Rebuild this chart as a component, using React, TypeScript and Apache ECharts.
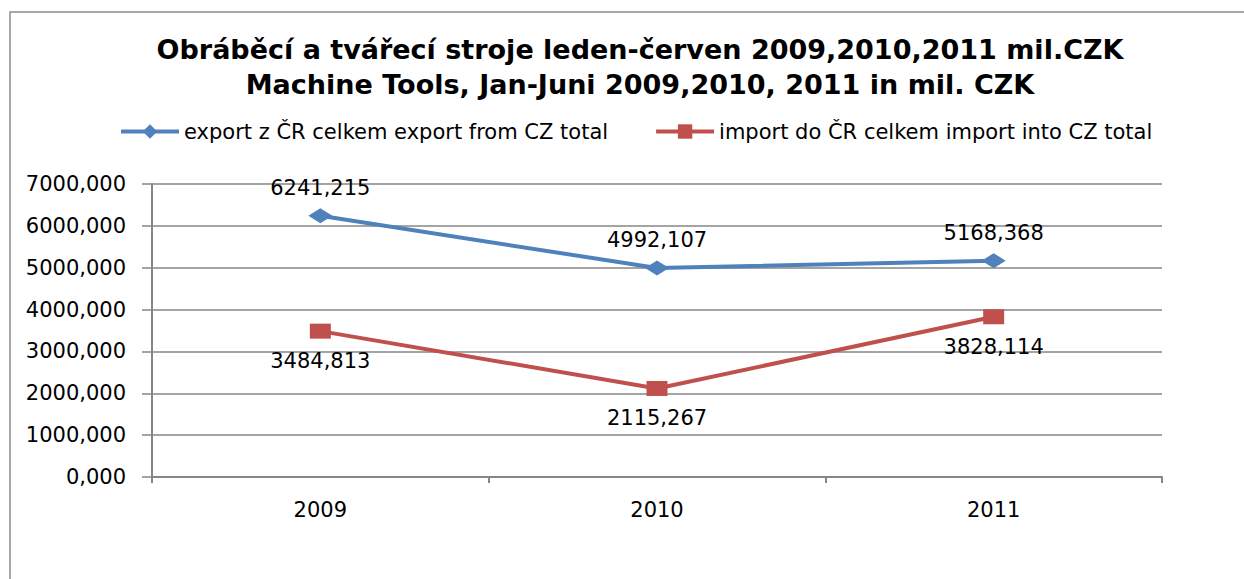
import React, { useEffect, useRef } from "react";
import * as echarts from "echarts";

const categories = ["2009", "2010", "2011"];
const exportValues = [6241.215, 4992.107, 5168.368];
const importValues = [3484.813, 2115.267, 3828.114];
const exportName = "export z ČR celkem export from CZ total";
const importName = "import do ČR celkem import into CZ total";
const titleText = "Obráběcí a tvářecí stroje leden-červen 2009,2010,2011 mil.CZK\nMachine Tools, Jan-Juni 2009,2010, 2011 in mil. CZK";

const fmt = (v: number) => v.toFixed(3).replace(".", ",");
const FONT = "'DejaVu Sans', sans-serif";

export default function App() {
  const ref = useRef<HTMLDivElement>(null);
  useEffect(() => {
    document.body.style.margin = "0";
    const chart = echarts.init(ref.current!, null, { renderer: "svg" });
    chart.setOption({
      animation: false,
      backgroundColor: "#ffffff",
      textStyle: { fontFamily: FONT },
      graphic: [
        {
          type: "rect",
          shape: { x: 10, y: 12, width: 1400, height: 800 },
          style: { fill: "none", stroke: "#8c8c8c", lineWidth: 1.5 },
          silent: true,
          z: -1,
        },
      ],
      title: {
        text: titleText,
        left: 635,
        textAlign: "center",
        top: 27,
        textStyle: {
          fontFamily: FONT,
          fontSize: 27,
          fontWeight: "bold",
          color: "#000000",
          lineHeight: 35,
        },
      },
      legend: {
        top: 116,
        left: 114,
        itemWidth: 58,
        itemHeight: 18,
        itemGap: 46,
        lineStyle: { width: 4 },
        textStyle: { fontFamily: FONT, fontSize: 21, color: "#000000" },
        data: [exportName, importName],
      },
      grid: { left: 152, top: 184, right: 82, bottom: 102 },
      xAxis: {
        type: "category",
        data: categories,
        boundaryGap: true,
        axisLine: { lineStyle: { color: "#868686", width: 2 } },
        axisTick: { show: true, length: 6, lineStyle: { color: "#868686", width: 2 } },
        axisLabel: { margin: 22, fontFamily: FONT, fontSize: 21, color: "#000000" },
      },
      yAxis: {
        type: "value",
        min: 0,
        max: 7000,
        interval: 1000,
        axisLine: { show: true, lineStyle: { color: "#868686", width: 2 } },
        axisTick: { show: true, length: 10, lineStyle: { color: "#868686", width: 1.5 } },
        splitLine: { lineStyle: { color: "#868686", width: 1.5 } },
        axisLabel: {
          margin: 26,
          fontFamily: FONT,
          fontSize: 21,
          color: "#000000",
          formatter: (v: number) => fmt(v),
        },
      },
      series: [
        {
          name: exportName,
          type: "line",
          data: exportValues,
          color: "#4F81BD",
          lineStyle: { width: 4, color: "#4F81BD" },
          symbol: "diamond",
          symbolSize: [24, 15],
          itemStyle: { color: "#4F81BD" },
          label: {
            show: true,
            position: "top",
            distance: 10,
            fontFamily: FONT,
            fontSize: 21,
            color: "#000000",
            formatter: (p: any) => fmt(p.value),
          },
        },
        {
          name: importName,
          type: "line",
          data: importValues,
          color: "#C0504D",
          lineStyle: { width: 4, color: "#C0504D" },
          symbol: "rect",
          symbolSize: [21, 15],
          itemStyle: { color: "#C0504D" },
          label: {
            show: true,
            position: "bottom",
            distance: 12,
            fontFamily: FONT,
            fontSize: 21,
            color: "#000000",
            formatter: (p: any) => fmt(p.value),
          },
        },
      ],
    });
    return () => chart.dispose();
  }, []);
  return (
    <div
      ref={ref}
      style={{ position: "absolute", left: 0, top: 0, width: 1244, height: 579 }}
    />
  );
}
